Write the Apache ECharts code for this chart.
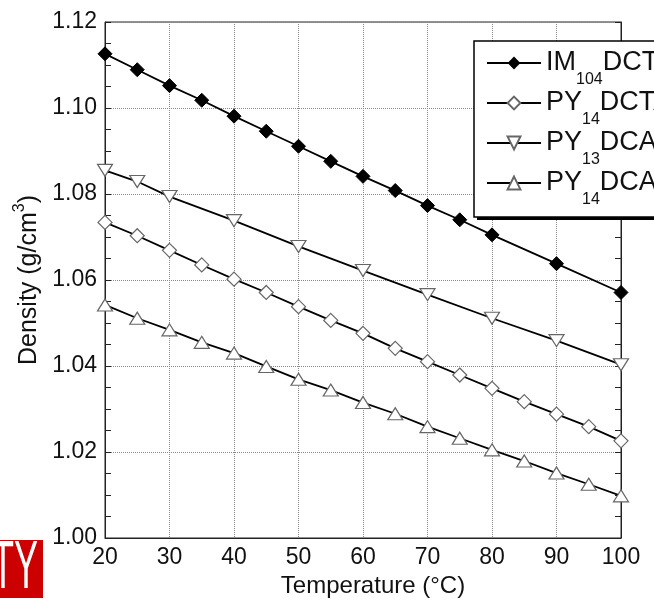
<!DOCTYPE html>
<html>
<head>
<meta charset="utf-8">
<script src="https://cdn.jsdelivr.net/npm/echarts@6/dist/echarts.min.js"></script>
<style>html,body{margin:0;padding:0;background:#fff}#c{width:654px;height:606px}</style>
</head>
<body>
<div id="c"></div>
<script>
// ---- data ----
const seriesNames = ['IM104DCTA', 'PY14DCTA', 'PY13DCA', 'PY14DCA'];
const legendLabels = ['{a|IM}{s|104}{a|DCTA}', '{a|PY}{s|14}{a|DCTA}', '{a|PY}{s|13}{a|DCA}', '{a|PY}{s|14}{a|DCA}'];

const xIM104DCTA = [20, 25, 30, 35, 40, 45, 50, 55, 60, 65, 70, 75, 80, 90, 100];
const yIM104DCTA = [1.1126, 1.1089, 1.1052, 1.1018, 1.0981, 1.0946, 1.0911, 1.0876, 1.0841, 1.0808, 1.0773, 1.0740, 1.0705, 1.0638, 1.0571];

const xPY14DCTA = [20, 25, 30, 35, 40, 45, 50, 55, 60, 65, 70, 75, 80, 85, 90, 95, 100];
const yPY14DCTA = [1.0734, 1.0703, 1.0669, 1.0635, 1.0602, 1.0571, 1.0538, 1.0506, 1.0476, 1.0441, 1.0410, 1.0379, 1.0348, 1.0317, 1.0288, 1.0259, 1.0226];

const xPY13DCA = [20, 25, 30, 40, 50, 60, 70, 80, 90, 100];
const yPY13DCA = [1.0855, 1.0829, 1.0794, 1.0738, 1.0678, 1.0622, 1.0566, 1.0511, 1.0459, 1.0403];

const xPY14DCA = [20, 25, 30, 35, 40, 45, 50, 55, 60, 65, 70, 75, 80, 85, 90, 95, 100];
const yPY14DCA = [1.0542, 1.0511, 1.0484, 1.0455, 1.0430, 1.0399, 1.0369, 1.0344, 1.0315, 1.0289, 1.0259, 1.0232, 1.0205, 1.0179, 1.0151, 1.0125, 1.0098];

const xTicks = {min: 20, max: 100, interval: 10};
const yTicks = {min: 1.00, max: 1.12, interval: 0.02};

const xTitle = 'Temperature (°C)';
const yTitle = '{a|Density (g/cm}{sup|3}{a|)}';
const badgeText = 'TY';

// ---- build ----
const pairs = (xs, ys) => xs.map((x, i) => [x, ys[i]]);
const FONT = 'Liberation Sans, Arial, sans-serif';
const labelMap = {};
seriesNames.forEach((n, i) => labelMap[n] = legendLabels[i]);

const lineStyle = {color: '#000', width: 1.8};
const openStyle = {color: '#fff', borderColor: '#666', borderWidth: 1.2};

const chart = echarts.init(document.getElementById('c'), null, {renderer: 'canvas'});
const yAxisCommon = {
  type: 'value', min: yTicks.min, max: yTicks.max, interval: yTicks.interval,
  axisLine: {show: true, lineStyle: {color: '#222', width: 1}},
  axisTick: {show: true, inside: true, length: 6, lineStyle: {color: '#222'}},
  minorTick: {show: true, splitNumber: 4, length: 6, lineStyle: {color: '#222'}},
};
chart.setOption({
  animation: false,
  backgroundColor: '#fff',
  textStyle: {fontFamily: FONT},
  grid: {left: 105, right: 33, top: 22, bottom: 68, show: true, borderColor: '#222', borderWidth: 1, backgroundColor: 'transparent'},
  xAxis: {
    type: 'value', min: xTicks.min, max: xTicks.max, interval: xTicks.interval,
    name: xTitle, nameLocation: 'middle', nameGap: 36,
    nameTextStyle: {fontSize: 24, color: '#111', fontFamily: FONT, padding: [0, 0, 0, 20]},
    axisLine: {show: true, lineStyle: {color: '#222'}},
    axisTick: {show: false},
    axisLabel: {fontSize: 23, color: '#111', margin: 8, fontFamily: FONT},
    splitLine: {show: true, lineStyle: {color: '#888', type: 'dotted', width: 1}}
  },
  yAxis: [
    Object.assign({}, yAxisCommon, {
      position: 'left',
      name: yTitle, nameLocation: 'middle', nameGap: 55, nameRotate: 90,
      nameTextStyle: {
        color: '#111', fontFamily: FONT,
        rich: {
          a: {fontSize: 25, lineHeight: 28, verticalAlign: 'bottom', color: '#111', fontFamily: FONT},
          sup: {fontSize: 16, lineHeight: 16, padding: [0, 0, 14, 0], verticalAlign: 'bottom', color: '#111', fontFamily: FONT}
        }
      },
      axisLabel: {fontSize: 23, color: '#111', margin: 8, fontFamily: FONT, formatter: v => v.toFixed(2)},
      splitLine: {show: true, lineStyle: {color: '#888', type: 'dotted', width: 1}}
    }),
    Object.assign({}, yAxisCommon, {
      position: 'right',
      axisLabel: {show: false},
      splitLine: {show: false}
    })
  ],
  legend: {
    orient: 'vertical', left: 474, top: 41, z: 10,
    padding: [-3, 220, 9, 12],
    itemGap: -10, itemWidth: 54, itemHeight: 16,
    selectedMode: false,
    backgroundColor: '#fff', borderColor: '#000', borderWidth: 1.5,
    data: seriesNames,
    formatter: n => labelMap[n],
    textStyle: {
      color: '#111', fontFamily: FONT,
      rich: {
        a: {fontSize: 27, lineHeight: 50, verticalAlign: 'middle', color: '#111', fontFamily: FONT},
        s: {fontSize: 16, lineHeight: 16, padding: [34, 0, 0, 0], verticalAlign: 'middle', color: '#111', fontFamily: FONT}
      }
    }
  },
  series: [
    {name: seriesNames[0], type: 'line', data: pairs(xIM104DCTA, yIM104DCTA), symbol: 'diamond', symbolSize: 14,
     lineStyle: lineStyle, itemStyle: {color: '#000', borderColor: '#000'}},
    {name: seriesNames[1], type: 'line', data: pairs(xPY14DCTA, yPY14DCTA), symbol: 'diamond', symbolSize: 14,
     lineStyle: lineStyle, itemStyle: openStyle},
    {name: seriesNames[2], type: 'line', data: pairs(xPY13DCA, yPY13DCA), symbol: 'triangle', symbolSize: [15, 12], symbolRotate: 180,
     lineStyle: lineStyle, itemStyle: openStyle},
    {name: seriesNames[3], type: 'line', data: pairs(xPY14DCA, yPY14DCA), symbol: 'triangle', symbolSize: [15, 12],
     lineStyle: lineStyle, itemStyle: openStyle}
  ],
  graphic: [
    {type: 'rect', x: 477, y: 44, z: 5, shape: {width: 300, height: 176}, style: {fill: '#000'}},
    {type: 'rect', left: 0, top: 540, shape: {width: 43, height: 58}, style: {fill: '#cc0000'}, z: 100},
    {type: 'text', x: 38, y: 569, scaleX: 0.53, z: 101,
     style: {text: badgeText, fill: '#fff', font: 'normal 68px ' + FONT, textAlign: 'right', textVerticalAlign: 'middle'}}
  ]
});
</script>
</body>
</html>
